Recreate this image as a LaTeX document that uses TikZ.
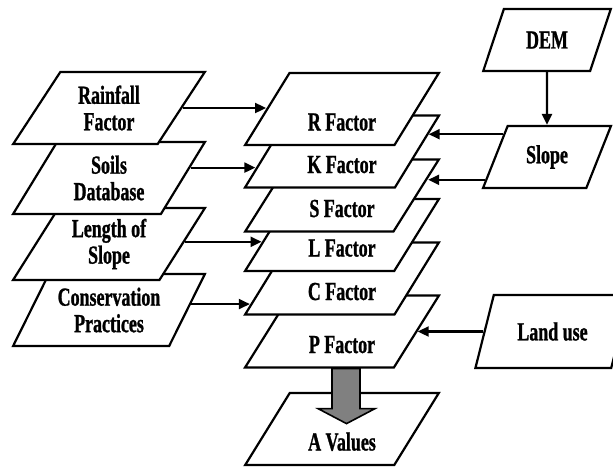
\documentclass[tikz,border=0pt]{standalone}
\usepackage{fontspec}
\setmainfont{Liberation Serif}[FakeStretch=0.69,BoldFeatures={FakeBold=1}]
\usetikzlibrary{arrows.meta,calc,shapes.geometric}

\begin{document}
\begin{tikzpicture}[x=1pt,y=-1pt,>={Triangle[length=11pt,width=10pt]},line width=2.2pt,
  font=\bfseries\fontsize{26}{26.5}\selectfont]
\tikzstyle{lay}=[draw,fill=white,trapezium,trapezium left angle=57,trapezium right angle=123,
  trapezium stretches=true,minimum width=192pt,minimum height=72pt,align=center,inner sep=2pt]
\tikzstyle{fac}=[lay,minimum width=194pt,text height=43pt,text depth=0pt]
\tikzstyle{src}=[lay,trapezium left angle=62.5,trapezium right angle=117.5,minimum width=128pt,minimum height=62pt]
\clip (0,0) rectangle (613,466);
% input layers, bottom one first
\node[lay] (cons) at (109,310) {Conservation\\ Practices};
\node[lay] (len) at (109,244) {Length of\\ Slope};
\node[lay] (soil) at (109,178) {Soils\\ Database};
\node[lay] (rain) at (109,108) {Rainfall\\ Factor};
% factor stack
\node[fac] (a) at (342,429) {A Values};
\node[fac] (p) at (342,331.5) {P Factor};
\node[fac] (c) at (342,278.5) {C Factor};
\node[fac] (l) at (342,235) {L Factor};
\node[fac] (s) at (342,195.5) {S Factor};
\node[fac] (k) at (342,151.5) {K Factor};
\node[fac] (r) at (342,109) {R Factor};
% right side
\node[src] (dem) at (547,40) {DEM};
\node[src] (slope) at (547,157) {Slope};
\node[src,minimum width=155pt,minimum height=73pt] (land) at (552.5,331.5) {Land use};
% connectors
\draw[->] (dem.south) -- (slope.north);
\draw[->] (rain.east) -- (rain.east -| r.west);
\coordinate (s0) at ($(soil.bottom right corner)!.64!(soil.top right corner)$);
\coordinate (k0) at ($(k.bottom left corner)!.27!(k.top left corner)$);
\draw[->] (s0) -- (s0 -| k0);
\coordinate (l0) at ($(len.bottom right corner)!.53!(len.top right corner)$);
\coordinate (l1) at ($(l.bottom left corner)!.40!(l.top left corner)$);
\draw[->] (l0) -- (l0 -| l1);
\coordinate (c0) at ($(cons.bottom right corner)!.58!(cons.top right corner)$);
\coordinate (c1) at ($(c.bottom left corner)!.146!(c.top left corner)$);
\draw[->] (c0) -- (c0 -| c1);
\coordinate (sl0) at ($(slope.bottom left corner)!.855!(slope.top left corner)$);
\coordinate (k1) at ($(k.bottom right corner)!.73!(k.top right corner)$);
\draw[->] (sl0) -- (sl0 -| k1);
\coordinate (sl1) at ($(slope.bottom left corner)!.145!(slope.top left corner)$);
\coordinate (s1) at ($(s.bottom right corner)!.73!(s.top right corner)$);
\draw[->] (sl1) -- (sl1 -| s1);
\draw[->] (land.west) -- (land.west -| p.east);
% result arrow
\draw[fill=gray,line width=1.6pt] ($(p.center |- p.south)+(-10,0)$) -- ++(0,40) -- ++(-14,0)
  -- ++(28.5,15) -- ++(28.5,-15) -- ++(-15,0) -- ++(0,-40) -- cycle;
\end{tikzpicture}
\end{document}
